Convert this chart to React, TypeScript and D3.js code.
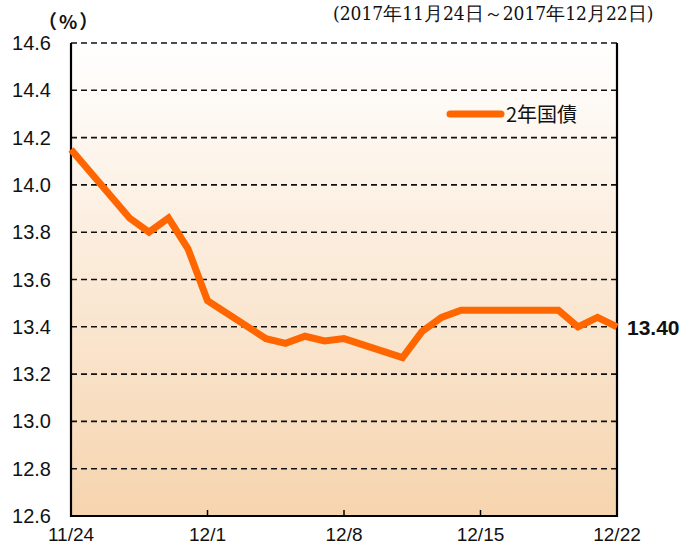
import { useEffect, useRef } from "react";
import * as d3 from "d3";

// business days shown (calendar-day x axis, weekends skipped)
const dates: string[] = [
  "2017-11-24", "2017-11-27", "2017-11-28", "2017-11-29", "2017-11-30", "2017-12-01",
  "2017-12-04", "2017-12-05", "2017-12-06", "2017-12-07", "2017-12-08",
  "2017-12-11", "2017-12-12", "2017-12-13", "2017-12-14", "2017-12-15",
  "2017-12-18", "2017-12-19", "2017-12-20", "2017-12-21", "2017-12-22",
];
const yields: number[] = [
  14.15, 13.86, 13.80, 13.86, 13.73, 13.51,
  13.35, 13.33, 13.36, 13.34, 13.35,
  13.27, 13.38, 13.44, 13.47, 13.47,
  13.47, 13.47, 13.40, 13.44, 13.40,
];
const yTicks: number[] = [12.6, 12.8, 13.0, 13.2, 13.4, 13.6, 13.8, 14.0, 14.2, 14.4, 14.6];
const xTickDates: string[] = ["2017-11-24", "2017-12-01", "2017-12-08", "2017-12-15", "2017-12-22"];
const xTickLabels: string[] = ["11/24", "12/1", "12/8", "12/15", "12/22"];
const seriesName = "2年国債";
const lastLabel = "13.40";
const unitLabel = "（%）";
const periodLabel = "(2017年11月24日～2017年12月22日)";

const W = 693;
const H = 546;
const margin = { top: 43, right: 76, bottom: 30, left: 71 };
const font = "'Liberation Sans Narrow', 'Liberation Sans', Arial, sans-serif";

export default function App() {
  const svgRef = useRef<SVGSVGElement | null>(null);

  useEffect(() => {
    const svg = d3.select(svgRef.current);
    svg.selectAll("*").remove();

    const parse = d3.timeParse("%Y-%m-%d");
    const pts = dates.map((d, i) => ({ date: parse(d) as Date, v: yields[i] }));

    const x = d3.scaleTime()
      .domain([parse(dates[0]) as Date, parse(dates[dates.length - 1]) as Date])
      .range([margin.left, W - margin.right]);
    const y = d3.scaleLinear().domain([12.6, 14.6]).range([H - margin.bottom, margin.top]);

    const defs = svg.append("defs");
    const grad = defs.append("linearGradient")
      .attr("id", "bg").attr("x1", 0).attr("y1", 0).attr("x2", 0).attr("y2", 1);
    grad.append("stop").attr("offset", "0%").attr("stop-color", "#ffffff");
    grad.append("stop").attr("offset", "100%").attr("stop-color", "#f6d4ae");

    const x0 = margin.left, x1 = W - margin.right;
    const yTop = margin.top, yBot = H - margin.bottom;

    svg.append("rect")
      .attr("x", x0).attr("y", yTop).attr("width", x1 - x0).attr("height", yBot - yTop)
      .attr("fill", "url(#bg)");

    // dashed grid
    svg.append("g")
      .selectAll("line")
      .data(yTicks.filter(t => t > 12.6))
      .join("line")
      .attr("x1", x0).attr("x2", x1)
      .attr("y1", d => y(d)).attr("y2", d => y(d))
      .attr("stroke", "#111").attr("stroke-width", 1.6)
      .attr("stroke-dasharray", "6,4");

    // frame: left, right, bottom
    svg.append("path")
      .attr("d", `M${x0},${yTop}V${yBot}H${x1}V${yTop}`)
      .attr("fill", "none").attr("stroke", "#000").attr("stroke-width", 2.2);

    // x ticks (inside, upward)
    svg.append("g")
      .selectAll("line")
      .data(xTickDates.slice(1, -1))
      .join("line")
      .attr("x1", d => x(parse(d) as Date)).attr("x2", d => x(parse(d) as Date))
      .attr("y1", yBot).attr("y2", yBot - 6)
      .attr("stroke", "#000").attr("stroke-width", 1.5);

    // y labels
    svg.append("g")
      .selectAll("text")
      .data(yTicks)
      .join("text")
      .attr("x", 51).attr("y", d => y(d) + 7)
      .attr("text-anchor", "end")
      .attr("font-family", font).attr("font-size", 20).attr("fill", "#111")
      .text(d => d.toFixed(1));

    // x labels
    svg.append("g")
      .selectAll("text")
      .data(xTickDates)
      .join("text")
      .attr("x", d => x(parse(d) as Date)).attr("y", 541)
      .attr("text-anchor", "middle")
      .attr("font-family", font).attr("font-size", 19).attr("fill", "#111")
      .text((d, i) => xTickLabels[i]);

    // series
    const line = d3.line<{ date: Date; v: number }>()
      .x(d => x(d.date)).y(d => y(d.v));
    svg.append("path")
      .datum(pts)
      .attr("d", line)
      .attr("fill", "none").attr("stroke", "#ff6600")
      .attr("stroke-width", 7).attr("stroke-linejoin", "miter");

    // last value label
    svg.append("text")
      .attr("x", 627).attr("y", y(yields[yields.length - 1]) + 8)
      .attr("font-family", "'Liberation Sans', Arial, sans-serif")
      .attr("font-size", 21).attr("font-weight", "bold").attr("fill", "#111")
      .text(lastLabel);

    // legend
    svg.append("line")
      .attr("x1", 450).attr("x2", 501).attr("y1", 114).attr("y2", 114)
      .attr("stroke", "#ff6600").attr("stroke-width", 7).attr("stroke-linecap", "round");
    svg.append("text")
      .attr("x", 506).attr("y", 122)
      .attr("font-family", "'Noto Sans CJK JP', sans-serif")
      .attr("font-size", 20).attr("fill", "#111")
      .text(seriesName);

    // unit
    svg.append("text")
      .attr("x", 38).attr("y", 29)
      .attr("font-family", "'Noto Sans CJK JP', sans-serif")
      .attr("font-size", 19).attr("fill", "#111").attr("font-weight", "bold")
      .attr("letter-spacing", 2)
      .text(unitLabel);

    // period
    svg.append("text")
      .attr("x", 333).attr("y", 20)
      .attr("font-family", "'DejaVu Serif Condensed', 'Liberation Serif', serif")
      .attr("font-size", 19).attr("fill", "#111")
      .text(periodLabel);
  }, []);

  return (
    <svg ref={svgRef} width={W} height={H}
      style={{ position: "absolute", left: 0, top: 0, background: "#fff" }} />
  );
}
